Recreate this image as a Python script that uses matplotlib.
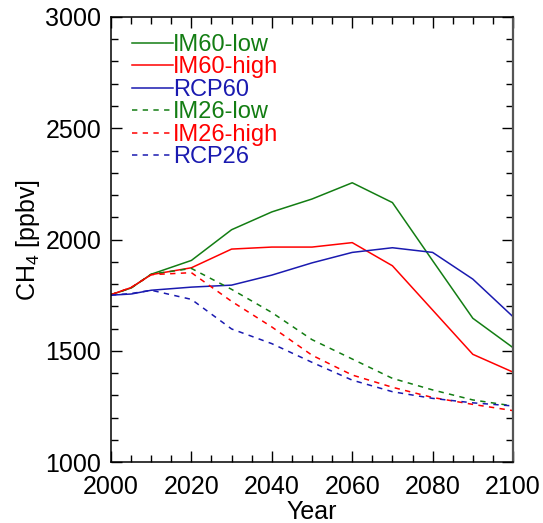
import numpy as np
import matplotlib
matplotlib.use("Agg")
import matplotlib.pyplot as plt
from matplotlib.ticker import MultipleLocator

plt.rcParams["font.family"] = ["Liberation Sans", "DejaVu Sans"]
plt.rcParams["mathtext.fontset"] = "custom"
plt.rcParams["mathtext.rm"] = "Liberation Sans"
plt.rcParams["mathtext.it"] = "Liberation Sans"

years = [2000, 2005, 2010, 2020, 2030, 2040, 2050, 2060, 2070, 2080, 2090, 2100]

im60_low = [1752, 1782, 1844, 1906, 2044, 2124, 2182, 2255, 2166, 1905, 1646, 1514]
im60_high = [1752, 1784, 1842, 1873, 1957, 1966, 1966, 1986, 1882, 1683, 1484, 1404]
rcp60 = [1750, 1755, 1772, 1786, 1795, 1840, 1895, 1942, 1963, 1942, 1822, 1653]
im26_low = [1752, 1782, 1844, 1870, 1776, 1672, 1550, 1463, 1376, 1324, 1279, 1252]
im26_high = [1752, 1784, 1842, 1851, 1722, 1607, 1480, 1391, 1336, 1290, 1259, 1231]
rcp26 = [1750, 1757, 1772, 1731, 1598, 1532, 1448, 1368, 1316, 1286, 1266, 1252]

series = [
    ("IM60-low", im60_low, "#137d13", "-"),
    ("IM60-high", im60_high, "#ff0000", "-"),
    ("RCP60", rcp60, "#1a1ab0", "-"),
    ("IM26-low", im26_low, "#137d13", "--"),
    ("IM26-high", im26_high, "#ff0000", "--"),
    ("RCP26", rcp26, "#1a1ab0", "--"),
]

fig = plt.figure(figsize=(5.43, 5.23), dpi=100)
ax = fig.add_axes([0.2044, 0.1166, 0.7404, 0.8509])

for label, vals, color, ls in series:
    if ls == "--":
        ax.plot(years, vals, color=color, lw=1.1, dashes=(3.5, 3.5), label=label)
    else:
        ax.plot(years, vals, color=color, lw=1.1, label=label)

ax.set_xlim(2000, 2100)
ax.set_ylim(1000, 3000)
ax.xaxis.set_major_locator(MultipleLocator(20))
ax.xaxis.set_minor_locator(MultipleLocator(5))
ax.yaxis.set_major_locator(MultipleLocator(500))
ax.yaxis.set_minor_locator(MultipleLocator(100))
ax.tick_params(which="both", direction="in", top=True, right=True, labelsize=18, width=1)
ax.tick_params(axis="x", pad=9)
ax.tick_params(axis="y", pad=7)
ax.tick_params(which="major", length=8)
ax.tick_params(which="minor", length=5)

for side in ["left", "bottom", "top"]:
    ax.spines[side].set_linewidth(1.1)
ax.spines["right"].set_color("#555555")
ax.spines["right"].set_linewidth(1.6)

ax.set_xlabel("Year", fontsize=18, labelpad=1)
ax.set_ylabel("CH$_4$ [ppbv]", fontsize=18, labelpad=2)

leg = ax.legend(loc="upper left", frameon=False, fontsize=17, labelcolor="linecolor",
                handlelength=1.75, handletextpad=0.0, labelspacing=0.02,
                borderaxespad=0.0, borderpad=0.0, bbox_to_anchor=(0.052, 0.962))

fig.savefig("out.png", dpi=100)
